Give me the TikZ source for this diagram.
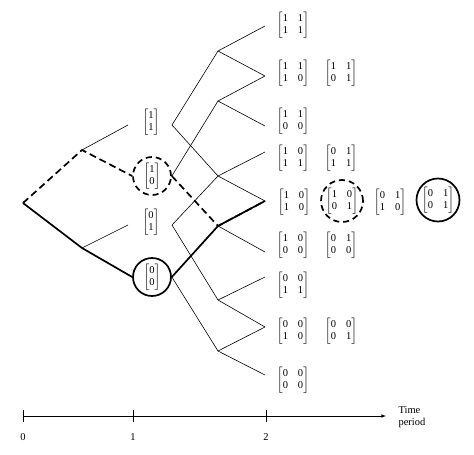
\documentclass[tikz,border=0pt]{standalone}
\usepackage{amsmath}
\usepackage{fontspec}
\setmainfont{Liberation Serif}
\usetikzlibrary{arrows,positioning,calc}

\newcommand{\mx}[4]{$\begin{bmatrix}\text{#1}&\text{#2}\\\text{#3}&\text{#4}\end{bmatrix}$}
\newcommand{\vc}[2]{$\begin{bmatrix}\text{#1}\\\text{#2}\end{bmatrix}$}

\begin{document}
\begin{tikzpicture}[x=1pt,y=-1pt,
	branch/.style={line width=0.6pt},
	boldpath/.style={line width=1.7pt},
	dashpath/.style={line width=1.7pt,dash pattern=on 7pt off 4pt},
	ring/.style={circle,draw,line width=1.7pt,minimum size=38pt,inner sep=0pt},
	dashring/.style={ring,dash pattern=on 6pt off 4pt},
	every node/.style={font=\fontsize{10.5}{12.5}\selectfont}]
	\useasboundingbox (0,0) rectangle (474,455);
	\coordinate (root) at (23,203);
	\coordinate (u) at (82,150);
	\coordinate (d) at (82,248);
	\coordinate (e11) at (128,125);
	\coordinate (e01) at (128,225);
	\node (v11) at (151,122) {\vc11};
	\node[dashring] (v10) at (152,176) {\vc10};
	\node (v01) at (151,222) {\vc01};
	\node[ring] (v00) at (152,277) {\vc00};
	\coordinate (s11) at (172,125);
	\coordinate (s01) at (172,225);
	\coordinate (m21) at (218,51);
	\coordinate (m20) at (218,101);
	\coordinate (m11) at (218,176);
	\coordinate (m10) at (218,226);
	\coordinate (m01) at (218,300);
	\coordinate (m00) at (218,351);
	\coordinate (f22) at (265,26);
	\coordinate (f21) at (265,76);
	\coordinate (f20) at (265,126);
	\coordinate (f12) at (265,152);
	\coordinate (f11) at (265,201);
	\coordinate (f10) at (265,252);
	\coordinate (f02) at (265,277);
	\coordinate (f01) at (265,327);
	\coordinate (f00) at (265,375);
	\node (r22) at (293,25) {\mx1111};
	\node (r21a) at (293,73) {\mx1110};
	\node (r21b) at (341,73) {\mx1101};
	\node (r20) at (293,121) {\mx1100};
	\node (r12a) at (293,158) {\mx1011};
	\node (r12b) at (341,158) {\mx0111};
	\node (r11a) at (294,202) {\mx1010};
	\node[dashring,minimum size=42pt] (r11b) at (342,201) {\mx1001};
	\node (r11c) at (390,202) {\mx0110};
	\node[ring,minimum size=43pt] (r11d) at (438,200) {\mx0101};
	\node (r10a) at (293,245) {\mx1000};
	\node (r10b) at (341,245) {\mx0100};
	\node (r02) at (293,285) {\mx0011};
	\node (r01a) at (293,331) {\mx0010};
	\node (r01b) at (341,331) {\mx0001};
	\node (r00) at (293,380) {\mx0000};
	\draw[branch] (u)--(e11);
	\draw[branch] (d)--(e01);
	\draw[branch] (s11)--(m21);
	\draw[branch] (s11)--(m11);
	\draw[branch] (v10.east)--(m20);
	\draw[branch] (s01)--(m11);
	\draw[branch] (s01)--(m01);
	\draw[branch] (v00.east)--(m00);
	\draw[branch] (m21)--(f22);
	\draw[branch] (m21)--(f21);
	\draw[branch] (m20)--(f21);
	\draw[branch] (m20)--(f20);
	\draw[branch] (m11)--(f12);
	\draw[branch] (m11)--(f11);
	\draw[branch] (m10)--(f10);
	\draw[branch] (m01)--(f02);
	\draw[branch] (m01)--(f01);
	\draw[branch] (m00)--(f01);
	\draw[branch] (m00)--(f00);
	\draw[dashpath] (root)--(u)--(v10.west);
	\draw[dashpath] (v10.east)--(m10)--(f11);
	\draw[boldpath] (root)--(d)--(v00.west);
	\draw[boldpath] (v00.east)--(m10)--(f11);
	\coordinate (t0) at (23,416);
	\coordinate (tend) at (386,416);
	\draw[branch,-latex] (t0)--(tend);
	\foreach \x/\t in {23/0,133/1,266/2} {
		\draw[branch] (\x,410)--(\x,422);
		\node (tick\t) at (\x,437) {\t};
	}
	\node[align=left,anchor=west] (tp) at (395,417) {Time\\period};
\end{tikzpicture}
\end{document}
